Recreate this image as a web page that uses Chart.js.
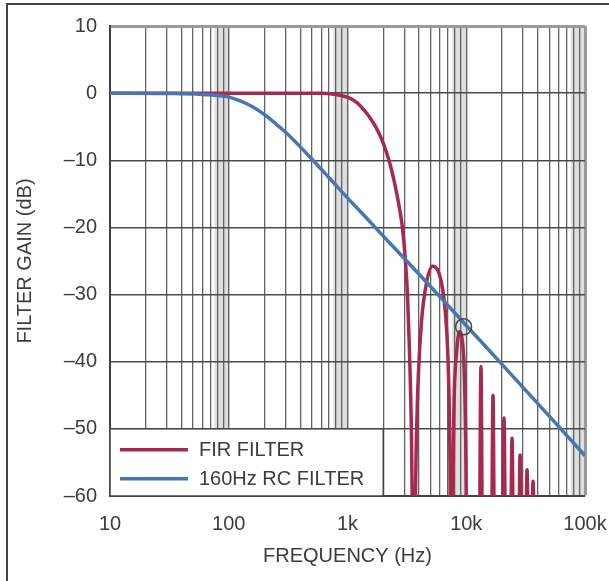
<!DOCTYPE html>
<html>
<head>
<meta charset="utf-8">
<script src="https://cdn.jsdelivr.net/npm/chart.js@4.4.1/dist/chart.umd.min.js"></script>
<style>
  body { margin: 0; background: #fff; }
  #wrap { position: relative; width: 609px; height: 581px; }
  #frame { position: absolute; left: 6px; top: 3px; right: 0; bottom: 0;
           border-top: 2px solid #444; border-left: 2px solid #444; pointer-events: none; }
</style>
</head>
<body>
<div id="wrap">
  <canvas id="filterChart" width="609" height="581"></canvas>
  <div id="frame"></div>
</div>
<script>
// Values
var firFreq = [10, 100, 300, 600, 800, 1000, 1200, 1450, 1700, 1900, 2100, 2300, 2500, 2700, 2900, 3060,
    3200, 3320, 3450, 3600, 3800, 3950, 4200, 4600, 5200, 5800, 6300, 6700, 7000, 7250, 7500,
    7900, 8300, 8800, 9200, 9600, 9900, 10200,
    12800, 13300, 13800, 16200, 16800, 17400, 20000, 20800, 21600, 23400, 24300, 25200,
    27400, 28400, 29400, 31300, 32500, 33700, 35200, 36500, 37800];
var firGain = [0, 0, 0, 0, -0.2, -0.6, -1.4, -3, -4.8, -6.5, -8.5, -10.8, -13.5, -16.5, -20, -24.5,
    -30, -38, -50, -75, -52, -42, -34, -28.5, -25.8, -26.5, -29, -33, -39, -50, -75,
    -46, -38.5, -35.5, -36.5, -41, -52, -75,
    -75, -40.7, -75, -75, -45, -75, -75, -48.4, -75, -75, -51.4, -75,
    -75, -53.9, -75, -75, -56.1, -75, -75, -57.8, -75];

var rcFreq = [10, 30, 60, 100, 150, 200, 250, 300, 400, 500, 700, 1000, 1500, 2000,
    3000, 5000, 7000, 10000, 20000, 50000, 100000];
var rcGain = [0, -0.05, -0.2, -0.6, -1.8, -3.2, -4.6, -5.8, -8, -9.8, -12.6, -15.6, -18.9, -21.3,
    -24.6, -28.8, -31.6, -34.6, -40.4, -48.1, -54];

// circled point near 10kHz
var markFreq = [9500];
var markGain = [-34.8];

var seriesNames = ["FIR FILTER", "160Hz RC FILTER"];
var xTickValues = [10, 100, 1000, 10000, 100000];
var xTickLabels = ["10", "100", "1k", "10k", "100k"];
var yTickValues = [-60, -50, -40, -30, -20, -10, 0, 10];
var yTickLabels = ["\u201360", "\u201350", "\u201340", "\u201330", "\u201320", "\u201310", "0", "10"];

const RED = "#a6294f";
const BLUE = "#4677b5";
const TEXT = "#3c3c3c";
const FONT = "'Liberation Sans', Arial, sans-serif";

function toPoints(xs, ys) {
    return xs.map((x, i) => ({x: x, y: ys[i]}));
}

// log grid: 1..9 per decade
var gridValues = [];
for (var d = 10; d < 100000; d *= 10) {
    for (var m = 1; m < 10; m++) gridValues.push(d * m);
}
gridValues.push(100000);

// gray shading where the 8,9,10 lines crowd together
const decadeBands = {
    id: 'decadeBands',
    beforeDraw: function(chart) {
        const ctx = chart.ctx;
        const xs = chart.scales.x;
        const area = chart.chartArea;
        ctx.save();
        ctx.fillStyle = "rgba(0,0,0,0.13)";
        for (var d = 10; d < 100000; d *= 10) {
            const a = xs.getPixelForValue(d * 7.6);
            const b = xs.getPixelForValue(d * 10);
            ctx.fillRect(a, area.top, b - a + 1, area.bottom - area.top);
        }
        ctx.restore();
    }
};

// legend box sitting inside the plot, bottom left
const insideLegend = {
    id: 'insideLegend',
    beforeDatasetsDraw: function(chart) {
        const ctx = chart.ctx;
        const xs = chart.scales.x, ys = chart.scales.y;
        const left = xs.getPixelForValue(10);
        const right = xs.getPixelForValue(2000);
        const top = ys.getPixelForValue(-50);
        const bottom = ys.getPixelForValue(-60);
        ctx.save();
        ctx.fillStyle = "#fff";
        ctx.fillRect(left, top, right - left, bottom - top);
        ctx.strokeStyle = "#444";
        ctx.lineWidth = 1.5;
        ctx.strokeRect(left, top, right - left, bottom - top);
        const colors = [RED, BLUE];
        ctx.font = "20px " + FONT;
        ctx.textBaseline = "middle";
        ctx.fillStyle = TEXT;
        for (var i = 0; i < 2; i++) {
            const y = top + 21 + i * 29;
            ctx.strokeStyle = colors[i];
            ctx.lineWidth = 3.5;
            ctx.beginPath();
            ctx.moveTo(left + 10, y);
            ctx.lineTo(left + 78, y);
            ctx.stroke();
            ctx.fillText(seriesNames[i], left + 89, y + 1);
        }
        ctx.restore();
    }
};

var ctx = document.getElementById("filterChart").getContext("2d");
var filterChart = new Chart(ctx, {
    type: "line",
    data: {
        datasets: [{
            label: seriesNames[0],
            data: toPoints(firFreq, firGain),
            borderColor: RED,
            borderWidth: 3.5,
            borderJoinStyle: 'round',
            borderCapStyle: 'round',
            pointRadius: 0,
            cubicInterpolationMode: 'monotone',
            order: 2
        }, {
            label: seriesNames[1],
            data: toPoints(rcFreq, rcGain),
            borderColor: BLUE,
            borderWidth: 3.5,
            pointRadius: 0,
            cubicInterpolationMode: 'monotone',
            order: 1
        }, {
            label: "mark",
            data: toPoints(markFreq, markGain),
            showLine: false,
            pointRadius: 8,
            pointBorderWidth: 1.5,
            pointBorderColor: "#444",
            pointBackgroundColor: "rgba(0,0,0,0)",
            order: 0
        }]
    },
    options: {
        responsive: false,
        animation: false,
        events: [],
        layout: { padding: { left: 0, top: 26, right: 24, bottom: 0 } },
        plugins: {
            legend: { display: false },
            tooltip: { enabled: false }
        },
        scales: {
            x: {
                type: "logarithmic",
                min: 10,
                max: 100000,
                afterBuildTicks: function(axis) {
                    axis.ticks = gridValues.map(v => ({value: v}));
                },
                afterFit: function(axis) {
                    axis.height = 85;
                    // let the 100k label hang into the right margin
                    axis.paddingLeft = 0;
                    axis.paddingRight = 0;
                },
                ticks: {
                    autoSkip: false,
                    maxRotation: 0,
                    padding: 16,
                    color: TEXT,
                    font: { family: FONT, size: 20 },
                    callback: function(value) {
                        const i = xTickValues.indexOf(value);
                        return i >= 0 ? xTickLabels[i] : "";
                    }
                },
                grid: {
                    drawTicks: false,
                    color: (c) => c.tick && c.tick.value === 100000 ? "#9a9a9a" : "#626262",
                    lineWidth: (c) => c.tick && c.tick.value === 100000 ? 3 : 1.3
                },
                border: { color: "#444", width: 2 },
                title: {
                    display: true,
                    text: "FREQUENCY (Hz)",
                    color: TEXT,
                    font: { family: FONT, size: 20 },
                    padding: { top: 0, bottom: 13 }
                }
            },
            y: {
                min: -60,
                max: 10,
                afterBuildTicks: function(axis) {
                    axis.ticks = yTickValues.map(v => ({value: v}));
                },
                afterFit: function(axis) { axis.width = 110; },
                ticks: {
                    padding: 13,
                    color: TEXT,
                    font: { family: FONT, size: 20 },
                    callback: function(value) {
                        return yTickLabels[yTickValues.indexOf(value)];
                    }
                },
                grid: {
                    drawTicks: false,
                    color: (c) => c.tick && c.tick.value === 10 ? "#9a9a9a" : "#4a4a4a",
                    lineWidth: (c) => c.tick && c.tick.value === 10 ? 3 : 1.5
                },
                border: { color: "#444", width: 2 },
                title: {
                    display: true,
                    text: "FILTER GAIN (dB)",
                    color: TEXT,
                    font: { family: FONT, size: 20 },
                    padding: { top: 13, bottom: 0 }
                }
            }
        }
    },
    plugins: [decadeBands, insideLegend]
});
</script>
</body>
</html>
